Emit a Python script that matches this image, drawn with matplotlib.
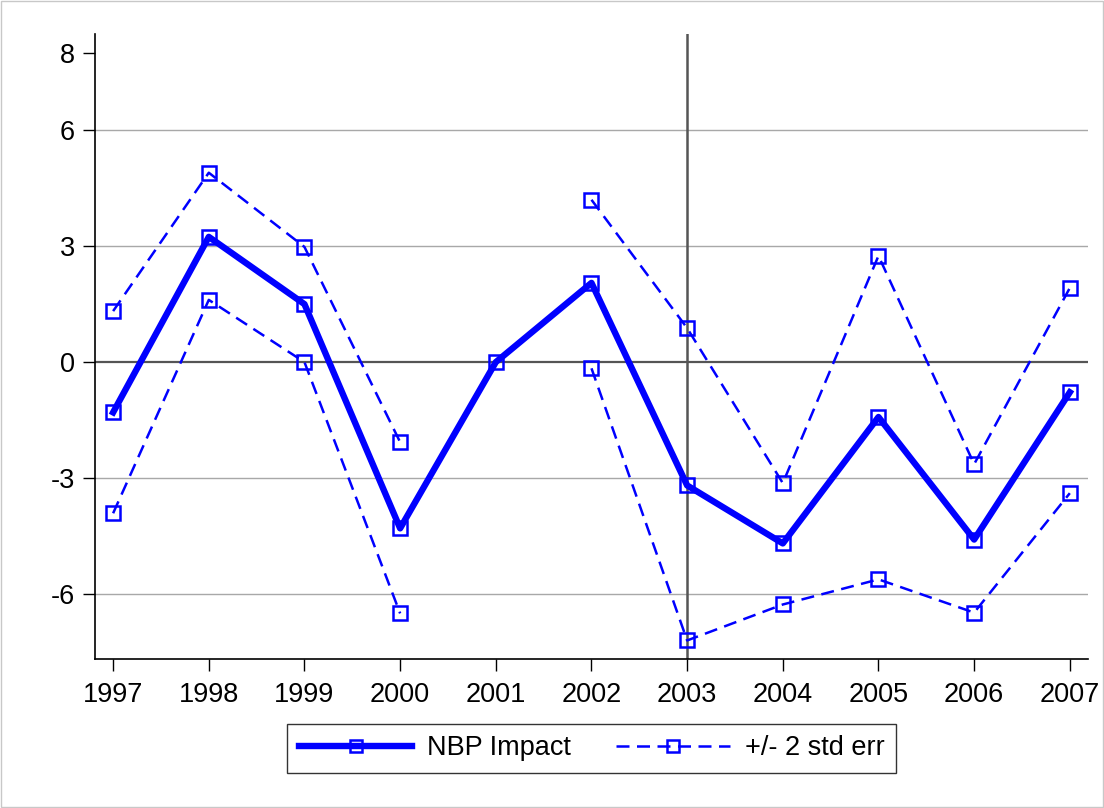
import numpy as np
import matplotlib.pyplot as plt
from matplotlib.patches import Rectangle

plt.rcParams['font.family'] = ['Liberation Sans', 'DejaVu Sans']

anni = [1997, 1998, 1999, 2000, 2001, 2002, 2003, 2004, 2005, 2006, 2007]
impatto = [-1.30, 3.24, 1.50, -4.30, 0.0, 2.05, -3.19, -4.69, -1.42, -4.59, -0.78]
sup = [1.32, 4.90, 2.98, -2.07, np.nan, 4.20, 0.88, -3.13, 2.75, -2.64, 1.92]
inf = [-3.91, 1.61, 0.0, -6.50, np.nan, -0.16, -7.20, -6.27, -5.62, -6.48, -3.39]
y_ticks = [-6, -3, 0, 3, 6, 8]

blu = '#0000ff'

fig = plt.figure(figsize=(11.04, 8.08), dpi=100)
ax = fig.add_axes([0.086, 0.1844, 0.8995, 0.7736])

# griglia e linee di riferimento
for t in [-6, -3, 3, 6]:
    ax.axhline(t, color='#a8a8a8', lw=1.0, zorder=1)
ax.axhline(0, color='#555555', lw=1.6, zorder=1)
ax.axvline(2003, color='#555555', lw=1.8, zorder=1)

mk = dict(marker='s', markersize=9.5, markerfacecolor='none',
          markeredgecolor=blu, markeredgewidth=1.8)
ax.plot(anni, impatto, color=blu, lw=4.6, label='NBP Impact', zorder=3, **mk)
ax.plot(anni, sup, color=blu, lw=1.8, dashes=(5.2, 3.0),
        label='+/- 2 std err', zorder=3, **mk)
ax.plot(anni, inf, color=blu, lw=1.8, dashes=(5.2, 3.0), zorder=3, **mk)

ax.set_xlim(1996.81, 2007.19)
ax.set_ylim(-7.68, 8.49)
ax.set_xticks(anni)
ax.set_yticks(y_ticks)
ax.set_yticklabels([str(t) for t in y_ticks])
ax.tick_params(axis='both', labelsize=19.5, length=8.5, width=1.0, direction='out', pad=6)
ax.tick_params(axis='x', pad=8)
ax.spines['top'].set_visible(False)
ax.spines['right'].set_visible(False)
ax.spines['left'].set_linewidth(1.2)
ax.spines['bottom'].set_linewidth(1.2)

leg = fig.legend(loc='center', bbox_to_anchor=(0.5358, 0.074), ncol=2, fontsize=19.5,
                 frameon=True, fancybox=False, edgecolor='black', handlelength=4.2,
                 columnspacing=1.65, borderpad=0.42, handletextpad=0.55, borderaxespad=0,
                 markerscale=0.9)
leg.get_frame().set_linewidth(1.0)

# bordo della figura
fig.patches.append(Rectangle((0.001, 0.001), 0.998, 0.998, transform=fig.transFigure,
                             fill=False, edgecolor='#c8c8c8', lw=1.0))

fig.savefig('out.png', dpi=100)
